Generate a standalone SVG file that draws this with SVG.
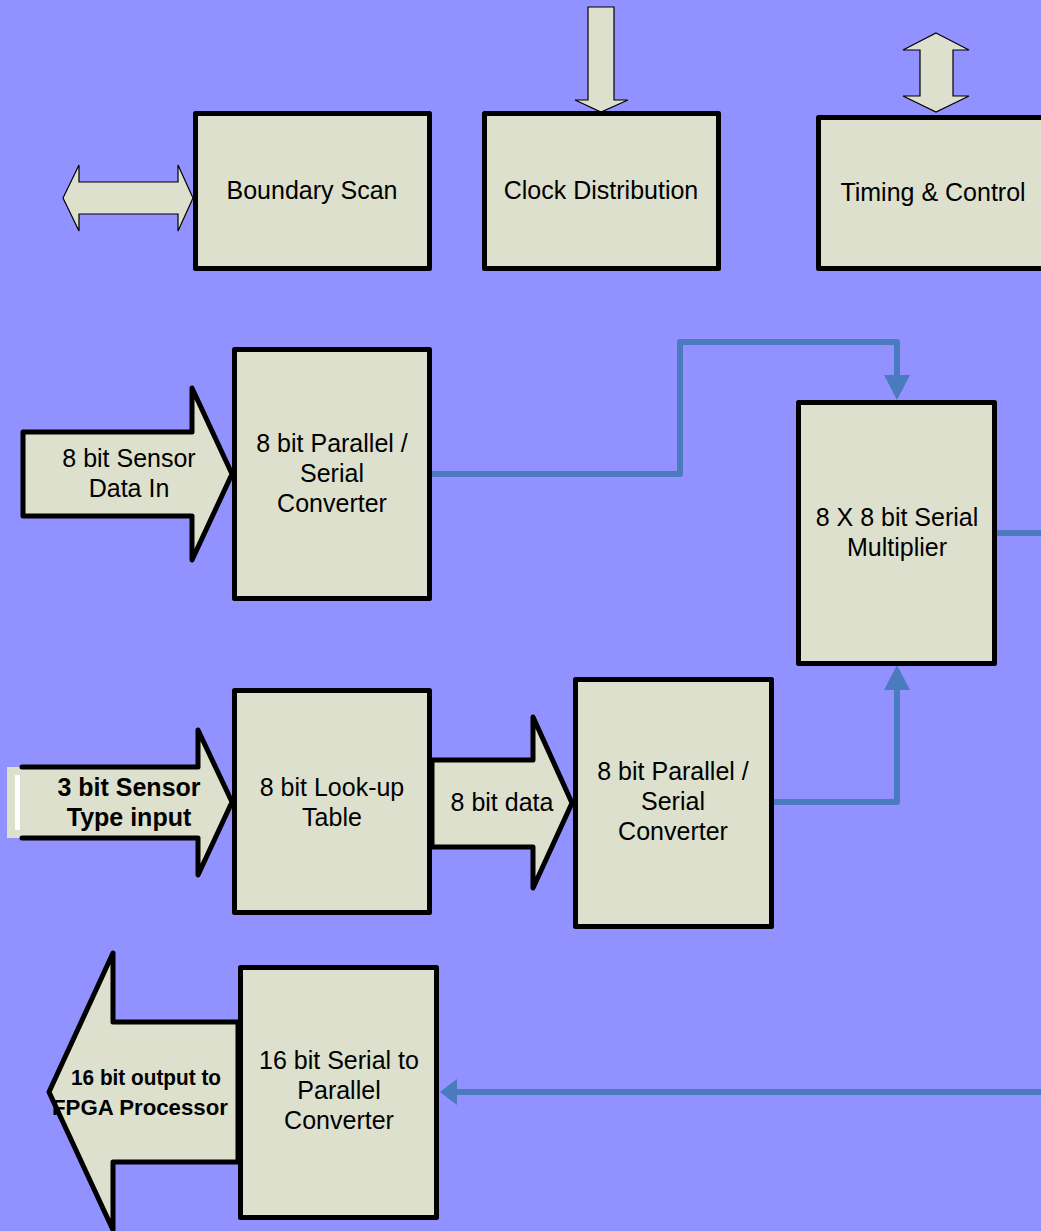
<svg xmlns="http://www.w3.org/2000/svg" width="1041" height="1231" viewBox="0 0 1041 1231">
  <style>
    .box { fill: #DCE0CC; stroke: #000; stroke-width: 5; stroke-linejoin: round; }
    .bigarrow { fill: #DCE0CC; stroke: #000; stroke-width: 5; stroke-linejoin: round; stroke-linecap: round; }
    .thinarrow { fill: #DCE0CC; stroke: #000; stroke-width: 1.2; stroke-linejoin: miter; }
    .wire { fill: none; stroke: #4A7BBF; stroke-width: 6; stroke-linejoin: round; stroke-linecap: round; }
    .lbl { font-family: "Liberation Sans", Arial, sans-serif; font-size: 25px; fill: #000; text-anchor: middle; }
    .bold { font-weight: bold; }
  </style>
  <defs>
    <marker id="head" markerUnits="userSpaceOnUse" markerWidth="26" markerHeight="28" viewBox="0 -14 26 28" refX="0" refY="0" orient="auto">
      <path d="M0,-13 L25,0 L0,13 z" fill="#4A7BBF"/>
    </marker>
    <marker id="headShort" markerUnits="userSpaceOnUse" markerWidth="18" markerHeight="28" viewBox="0 -14 18 28" refX="0" refY="0" orient="auto">
      <path d="M0,-13 L17,0 L0,13 z" fill="#4A7BBF"/>
    </marker>
  </defs>

  <rect width="1041" height="1231" fill="#9191FF"/>

  <!-- signal wiring between blocks -->
  <g id="connectors">
    <path class="wire" d="M432,474 H680 V342 H897 V375" marker-end="url(#head)"/>
    <path class="wire" d="M771,802 H897 V690" marker-end="url(#head)"/>
    <path class="wire" d="M997,533 H1045"/>
    <path class="wire" d="M1045,1092 H457" marker-end="url(#headShort)"/>
  </g>

  <!-- external I/O arrows -->
  <g id="jtag-port">
    <polygon class="thinarrow" points="63,198 79,165 79,182 178,182 178,165 193,198 178,231 178,214 79,214 79,231"/>
  </g>
  <g id="clock-in">
    <polygon class="thinarrow" points="588,7 614,7 614,100 628,100 601,112 575,100 588,100"/>
  </g>
  <g id="control-port">
    <polygon class="thinarrow" points="936,33 969,50 953,50 953,96 969,96 936,112 903,96 920,96 920,50 903,50"/>
  </g>

  <g id="sensor-data-in">
    <polygon class="bigarrow" points="23,432 192,432 192,388 232,474 192,560 192,516 23,516"/>
    <text class="lbl" x="129" y="467">8 bit Sensor</text>
    <text class="lbl" x="129" y="497">Data In</text>
  </g>

  <g id="sensor-type-in">
    <polygon points="7,767 198,767 198,730 232,802 198,875 198,838 7,838" fill="#DCE0CC"/>
    <polyline class="bigarrow" fill="none" points="22,767 198,767 198,730 232,802 198,875 198,838 22,838" style="fill:none"/>
    <rect x="15" y="775" width="5" height="55" fill="#FFFFFF"/>
    <text class="lbl bold" x="129" y="796">3 bit Sensor</text>
    <text class="lbl bold" x="129" y="826">Type input</text>
  </g>

  <g id="lut-data">
    <polygon class="bigarrow" points="432,760 533,760 533,717 572,803 533,888 533,847 432,847"/>
    <text class="lbl" x="502" y="811">8 bit data</text>
  </g>

  <g id="fpga-out">
    <polygon class="bigarrow" points="238,1022 113,1022 113,953 49,1092 113,1230 113,1162 238,1162"/>
    <text class="lbl bold" x="146" y="1085" font-size="22" textLength="150" lengthAdjust="spacingAndGlyphs" style="font-size:22px">16 bit output to</text>
    <text class="lbl bold" x="140" y="1115" font-size="22" textLength="176" lengthAdjust="spacingAndGlyphs" style="font-size:22px">FPGA Processor</text>
  </g>

  <!-- blocks -->
  <g id="boundary-scan">
    <rect class="box" x="195.5" y="113.5" width="234" height="155"/>
    <text class="lbl" x="312" y="199">Boundary Scan</text>
  </g>
  <g id="clock-distribution">
    <rect class="box" x="484.5" y="113.5" width="234" height="155"/>
    <text class="lbl" x="601" y="199">Clock Distribution</text>
  </g>
  <g id="timing-control">
    <rect class="box" x="818.5" y="117.5" width="240" height="151"/>
    <text class="lbl" x="933" y="201">Timing &amp; Control</text>
  </g>
  <g id="ps-converter-a">
    <rect class="box" x="234.5" y="349.5" width="195" height="249"/>
    <text class="lbl" x="332" y="452">8 bit Parallel /</text>
    <text class="lbl" x="332" y="482">Serial</text>
    <text class="lbl" x="332" y="512">Converter</text>
  </g>
  <g id="multiplier">
    <rect class="box" x="798.5" y="402.5" width="196" height="261"/>
    <text class="lbl" x="897" y="526">8 X 8 bit Serial</text>
    <text class="lbl" x="897" y="556">Multiplier</text>
  </g>
  <g id="lookup-table">
    <rect class="box" x="234.5" y="690.5" width="195" height="222"/>
    <text class="lbl" x="332" y="796">8 bit Look-up</text>
    <text class="lbl" x="332" y="826">Table</text>
  </g>
  <g id="ps-converter-b">
    <rect class="box" x="575.5" y="679.5" width="196" height="247"/>
    <text class="lbl" x="673" y="780">8 bit Parallel /</text>
    <text class="lbl" x="673" y="810">Serial</text>
    <text class="lbl" x="673" y="840">Converter</text>
  </g>
  <g id="sp-converter">
    <rect class="box" x="240.5" y="967.5" width="196" height="250"/>
    <text class="lbl" x="339" y="1069">16 bit Serial to</text>
    <text class="lbl" x="339" y="1099">Parallel</text>
    <text class="lbl" x="339" y="1129">Converter</text>
  </g>
</svg>
